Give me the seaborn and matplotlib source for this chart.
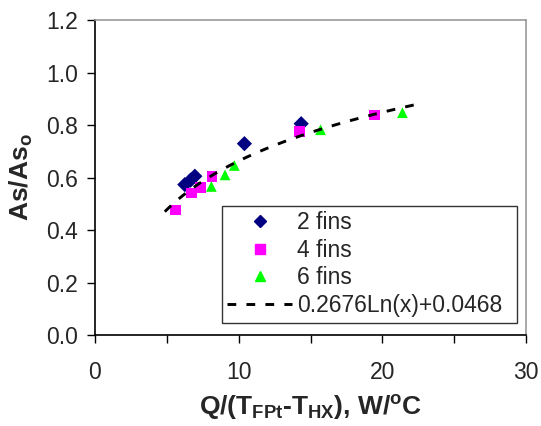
import numpy as np
import pandas as pd
import matplotlib
matplotlib.use("Agg")
import matplotlib.pyplot as plt
from matplotlib.lines import Line2D
import seaborn as sns

# values
x_2fins = [6.25, 6.65, 6.95, 10.4, 14.35]
y_2fins = [0.573, 0.590, 0.605, 0.729, 0.805]
x_4fins = [5.6, 6.7, 7.35, 8.15, 14.25, 19.45]
y_4fins = [0.476, 0.541, 0.563, 0.604, 0.776, 0.838]
x_6fins = [8.1, 9.05, 9.7, 15.7, 21.4]
y_6fins = [0.566, 0.610, 0.646, 0.782, 0.847]

fit_a, fit_b = 0.2676, 0.0468  # y = a*ln(x) + b
fit_range = [4.86, 22.57]
fit_label = "0.2676Ln(x)+0.0468"

x_ticks = [0, 10, 20, 30]
y_ticks = [0.0, 0.2, 0.4, 0.6, 0.8, 1.0, 1.2]

sns.set_style("ticks")
plt.rcParams["font.family"] = ["Liberation Sans", "DejaVu Sans"]
plt.rcParams["mathtext.fontset"] = "custom"
plt.rcParams["mathtext.rm"] = "Liberation Sans:bold"
plt.rcParams["mathtext.it"] = "Liberation Sans:bold"
plt.rcParams["mathtext.bf"] = "Liberation Sans:bold"

df = pd.concat([
    pd.DataFrame({"x": x_2fins, "y": y_2fins, "fins": "2 fins"}),
    pd.DataFrame({"x": x_4fins, "y": y_4fins, "fins": "4 fins"}),
    pd.DataFrame({"x": x_6fins, "y": y_6fins, "fins": "6 fins"}),
])
colors = {"2 fins": "#000080", "4 fins": "#FF00FF", "6 fins": "#00FF00"}
markers = {"2 fins": "D", "4 fins": "s", "6 fins": "^"}
dash = (0, (3, 3.5))

fig = plt.figure(figsize=(5.41, 4.26), dpi=100)
ax = fig.add_axes([0.1756, 0.2136, 0.7967, 0.7394])

fx = np.linspace(fit_range[0], fit_range[1], 100)
fy = fit_a * np.log(fx) + fit_b
ax.plot(fx, fy, color="black", lw=2.1, ls=dash, zorder=3)

sns.scatterplot(data=df, x="x", y="y", hue="fins", style="fins",
                palette=colors, markers=markers, s=60, edgecolor="none",
                legend=False, ax=ax, zorder=2)

ax.set_xlim(0, 30)
ax.set_ylim(0, 1.2)
ax.set_xticks(x_ticks)
ax.set_xticks([5, 15, 25], minor=True)
ax.set_yticks(y_ticks)
ax.set_xticklabels([str(t) for t in x_ticks])
ax.set_yticklabels([f"{t:.1f}" for t in y_ticks])
ax.tick_params(axis="both", which="both", direction="out", length=5.5, width=1,
               labelsize=16.5, color="black")
ax.tick_params(axis="x", pad=13)
ax.tick_params(axis="y", pad=7)

for side in ["left", "bottom"]:
    ax.spines[side].set_color("black")
    ax.spines[side].set_linewidth(1.2)
for side in ["top", "right"]:
    ax.spines[side].set_visible(True)
    ax.spines[side].set_color("#999999")
    ax.spines[side].set_linewidth(1.2)

ax.set_xlabel("Q/(T$_{FPt}$-T$_{HX}$), W/$^{o}$C", fontsize=19, fontweight="bold", labelpad=7)
ax.set_ylabel("As/As$_{o}$", fontsize=19, fontweight="bold", labelpad=8)

handles = [
    Line2D([], [], ls="none", marker="D", color=colors["2 fins"], markersize=6.5),
    Line2D([], [], ls="none", marker="s", color=colors["4 fins"], markersize=6.5),
    Line2D([], [], ls="none", marker="^", color=colors["6 fins"], markersize=7.5),
    Line2D([], [], color="black", lw=2.1, ls=dash),
]
labels = ["2 fins", "4 fins", "6 fins", fit_label]
leg = ax.legend(handles, labels, loc="lower left", bbox_to_anchor=(0.294, 0.039, 0.684, 0.371),
                mode="expand", fontsize=16.5, frameon=True, fancybox=False,
                edgecolor="black", handlelength=2.8, handletextpad=0.25,
                labelspacing=0.2, borderpad=0.25, borderaxespad=0)
leg.get_frame().set_linewidth(1.0)

fig.savefig("out.png", dpi=100)
